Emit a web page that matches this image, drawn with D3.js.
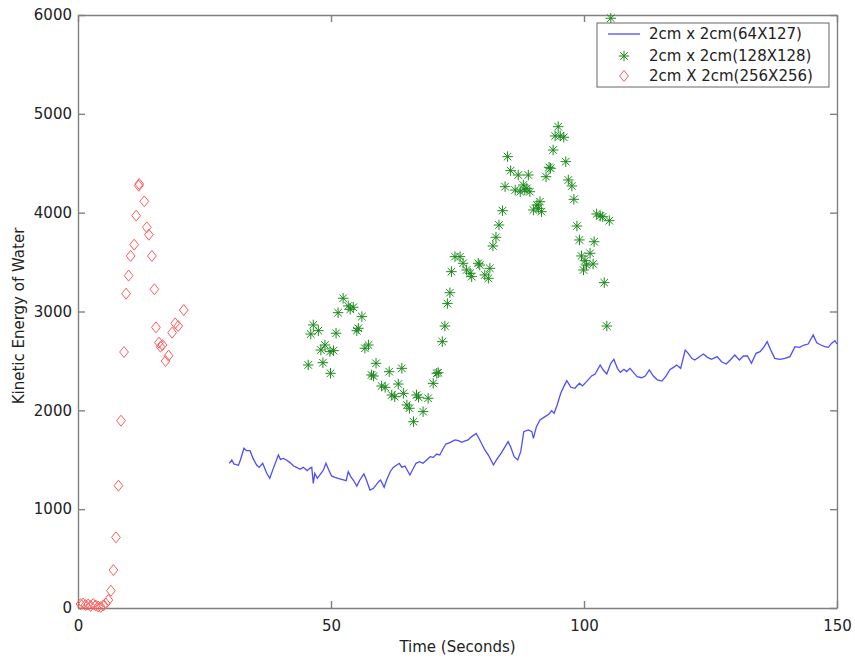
<!DOCTYPE html>
<html>
<head>
<meta charset="utf-8">
<script src="https://cdn.jsdelivr.net/npm/d3@7"></script>
<style>
  html, body { margin: 0; padding: 0; background: #fff; }
  text { font-family: "DejaVu Sans", "Liberation Sans", Arial, sans-serif; fill: #222; }
  .axis path, .axis line { stroke: #808080; stroke-width: 1.4; }
  .axis text { font-size: 15px; font-family: "DejaVu Sans", sans-serif; fill: #222; }
</style>
</head>
<body>
<div id="chart"></div>
<script>
// 2cm x 2cm (64X127): line
const blueTime = [29.9, 30.4, 30.8, 31.7, 32.1, 32.8, 33.3, 34.0, 34.6, 35.3, 35.8, 36.5, 37.3, 37.9, 38.6, 39.6, 40.0, 40.6, 41.2, 41.9,
  42.6, 43.2, 43.9, 44.5, 45.3, 45.8, 46.2, 46.5, 46.8, 47.3, 47.8, 48.5, 49.0, 49.5, 50.1, 50.8, 51.4, 52.1, 53.0, 53.4,
  53.9, 54.4, 55.1, 55.7, 56.5, 57.0, 57.7, 58.4, 59.4, 59.8, 60.5, 61.0, 61.7, 62.3, 63.0, 63.5, 64.0, 64.6, 65.6, 66.1,
  66.8, 67.5, 68.2, 68.9, 69.6, 70.2, 70.9, 71.5, 72.2, 72.7, 73.5, 74.5, 75.2, 75.8, 76.5, 77.1, 77.8, 78.7, 79.4, 80.4,
  81.1, 81.6, 82.1, 82.7, 83.7, 85.0, 85.5, 86.2, 86.9, 87.5, 88.1, 89.0, 89.7, 90.0, 90.6, 91.3, 92.3, 93.1, 93.6, 94.1,
  94.7, 95.4, 96.0, 96.6, 97.4, 98.2, 99.1, 99.7, 100.5, 101.5, 102.2, 103.2, 103.8, 104.5, 105.3, 105.9, 106.6, 107.2, 107.9, 108.4,
  109.1, 109.8, 110.5, 111.4, 112.1, 112.9, 113.7, 114.5, 115.4, 116.2, 117.0, 117.7, 118.3, 119.1, 120.0, 120.6, 121.3, 121.9, 122.8, 123.6,
  124.4, 125.2, 126.3, 127.2, 128.1, 128.9, 129.8, 130.7, 131.5, 132.3, 133.1, 134.0, 134.8, 135.6, 136.2, 136.9, 137.7, 138.7, 139.7, 140.7,
  141.7, 142.6, 143.5, 144.3, 145.3, 146.0, 146.8, 147.6, 148.3, 148.9, 149.6, 150.0]
const blueEnergy = [1464, 1498, 1457, 1444, 1498, 1616, 1592, 1592, 1514, 1447, 1423, 1464, 1363, 1312, 1413, 1548, 1504, 1514, 1498, 1471,
  1437, 1423, 1403, 1423, 1390, 1413, 1423, 1261, 1363, 1312, 1346, 1396, 1464, 1403, 1336, 1322, 1312, 1302, 1288, 1379,
  1329, 1295, 1234, 1295, 1356, 1295, 1194, 1211, 1278, 1295, 1221, 1295, 1379, 1423, 1447, 1464, 1423, 1437, 1346, 1396,
  1464, 1481, 1464, 1498, 1531, 1524, 1558, 1548, 1616, 1659, 1673, 1700, 1693, 1676, 1690, 1700, 1734, 1767, 1700, 1599,
  1548, 1498, 1447, 1498, 1572, 1683, 1632, 1531, 1498, 1582, 1784, 1801, 1784, 1717, 1835, 1903, 1936, 1963, 1997, 1970,
  2054, 2172, 2240, 2300, 2233, 2223, 2274, 2247, 2290, 2348, 2368, 2459, 2408, 2368, 2476, 2516, 2425, 2385, 2415, 2392,
  2425, 2381, 2340, 2330, 2347, 2408, 2347, 2307, 2296, 2347, 2414, 2435, 2458, 2425, 2610, 2577, 2526, 2509, 2543, 2570,
  2536, 2516, 2543, 2492, 2469, 2509, 2560, 2509, 2550, 2550, 2475, 2577, 2593, 2644, 2694, 2610, 2526, 2516, 2526, 2543,
  2644, 2637, 2661, 2671, 2762, 2684, 2661, 2644, 2637, 2677, 2704, 2671]

// 2cm x 2cm (128X128): stars
const greenTime = [45.5, 46.0, 46.5, 47.5, 48.0, 48.4, 48.8, 49.8, 49.9, 50.5, 51.0, 51.4, 52.4, 53.4, 53.8, 54.4, 55.1, 55.4, 56.1, 56.7,
  57.4, 58.0, 58.4, 58.9, 60.0, 60.7, 61.5, 62.0, 62.6, 63.3, 64.0, 64.3, 65.0, 65.5, 66.3, 66.9, 67.3, 68.2, 69.2, 70.2,
  70.9, 71.2, 72.0, 72.5, 73.0, 73.5, 73.8, 74.5, 75.5, 76.1, 76.8, 77.5, 77.8, 79.1, 79.4, 80.4, 81.1, 81.4, 82.0, 82.6,
  83.2, 83.9, 84.4, 84.9, 85.5, 86.4, 87.0, 87.4, 88.0, 88.3, 88.7, 89.0, 89.3, 90.0, 90.7, 91.0, 91.3, 91.6, 92.5, 93.1,
  93.4, 93.9, 94.3, 94.9, 95.3, 96.0, 96.4, 96.9, 97.6, 98.0, 98.6, 99.1, 99.5, 99.9, 100.2, 100.5, 101.2, 101.8, 102.0, 102.5,
  103.2, 103.7, 104.0, 104.5, 105.0, 105.3]
const greenEnergy = [2459, 2772, 2864, 2806, 2610, 2482, 2661, 2594, 2375, 2604, 2780, 2988, 3134, 3056, 3022, 3043, 2806, 2830, 2948, 2628,
  2661, 2358, 2347, 2476, 2246, 2233, 2391, 2155, 2138, 2266, 2425, 2172, 2054, 2021, 1885, 2155, 2132, 1987, 2122, 2273,
  2375, 2381, 2695, 2853, 3080, 3190, 3403, 3555, 3555, 3488, 3420, 3387, 3353, 3488, 3470, 3370, 3336, 3437, 3663, 3751,
  3875, 4020, 4263, 4567, 4425, 4229, 4381, 4212, 4280, 4229, 4246, 4381, 4212, 4027, 4078, 4044, 4111, 4010, 4364, 4459,
  4449, 4634, 4776, 4870, 4776, 4763, 4516, 4331, 4270, 4135, 3865, 3724, 3562, 3420, 3514, 3470, 3589, 3481, 3706, 3987,
  3966, 3959, 3292, 2853, 3919, 5967]

// 2cm X 2cm (256X256): diamonds
const redTime = [0.5, 1.0, 1.5, 2.0, 2.5, 3.0, 3.5, 4.0, 4.5, 5.0, 5.5, 6.0, 6.5, 7.0, 7.5, 8.0, 8.5, 9.1, 9.5, 10.0,
  10.4, 11.1, 11.5, 12.0, 12.1, 13.1, 13.6, 14.0, 14.6, 15.1, 15.4, 16.0, 16.3, 16.7, 17.3, 17.9, 18.6, 19.2, 19.8, 20.9]
const redEnergy = [40, 45, 30, 35, 20, 40, 25, 15, 10, 25, 45, 81, 175, 384, 715, 1238, 1895, 2590, 3180, 3363,
  3562, 3676, 3970, 4273, 4290, 4115, 3852, 3777, 3562, 3225, 2840, 2685, 2644, 2661, 2499, 2553, 2786, 2880, 2853, 3015]

const xTicks = [0, 50, 100, 150]
const yTicks = [0, 1000, 2000, 3000, 4000, 5000, 6000]
const legendLabels = ["2cm x 2cm(64X127)", "2cm x 2cm(128X128)", "2cm X 2cm(256X256)"]

const SVG_WIDTH = 855
const SVG_HEIGHT = 658
const MARGIN = { top: 15, right: 18, bottom: 50, left: 78 }
const GRAPH_WIDTH = SVG_WIDTH - MARGIN.left - MARGIN.right
const GRAPH_HEIGHT = SVG_HEIGHT - MARGIN.top - MARGIN.bottom

const BLUE = "#4d4dff"
const GREEN = "#1b8a1b"
const RED = "#ff5a5a"

// matlab style markers
const star = {
  draw(context, size) {
    const r = Math.sqrt(size) / 2
    const d = r * 0.72
    context.moveTo(-r, 0); context.lineTo(r, 0)
    context.moveTo(0, -r); context.lineTo(0, r)
    context.moveTo(-d, -d); context.lineTo(d, d)
    context.moveTo(-d, d); context.lineTo(d, -d)
  }
}
const diamond = {
  draw(context, size) {
    const h = Math.sqrt(size) / 2
    const w = h * 0.8
    context.moveTo(0, -h)
    context.lineTo(w, 0)
    context.lineTo(0, h)
    context.lineTo(-w, 0)
    context.closePath()
  }
}

const svg = d3
  .select("#chart")
  .append("svg")
  .attr("width", SVG_WIDTH)
  .attr("height", SVG_HEIGHT)

const graph = svg
  .append("g")
  .attr("transform", `translate(${MARGIN.left}, ${MARGIN.top})`)

// SCALES ----------------------

const xScale = d3.scaleLinear().domain([0, 150]).range([0, GRAPH_WIDTH])
const yScale = d3.scaleLinear().domain([0, 6000]).range([GRAPH_HEIGHT, 0])

// AXES (box with inward ticks) ------------------------

graph
  .append("g")
  .attr("class", "axis")
  .attr("transform", `translate(0, ${GRAPH_HEIGHT})`)
  .call(d3.axisBottom(xScale).tickValues(xTicks).tickSizeInner(-7).tickSizeOuter(0).tickPadding(12).tickFormat(d3.format("d")))
graph
  .append("g")
  .attr("class", "axis")
  .call(d3.axisTop(xScale).tickValues(xTicks).tickSizeInner(-7).tickSizeOuter(0).tickFormat(""))
graph
  .append("g")
  .attr("class", "axis")
  .call(d3.axisLeft(yScale).tickValues(yTicks).tickSizeInner(-7).tickSizeOuter(0).tickPadding(6).tickFormat(d3.format("d")))
graph
  .append("g")
  .attr("class", "axis")
  .attr("transform", `translate(${GRAPH_WIDTH}, 0)`)
  .call(d3.axisRight(yScale).tickValues(yTicks).tickSizeInner(-7).tickSizeOuter(0).tickFormat(""))

// SERIES ------------------------

const line = d3
  .line()
  .x(i => xScale(blueTime[i]))
  .y(i => yScale(blueEnergy[i]))

graph
  .append("path")
  .datum(d3.range(blueTime.length))
  .attr("fill", "none")
  .attr("stroke", BLUE)
  .attr("stroke-width", 1.3)
  .attr("d", line)

graph
  .selectAll(".star")
  .data(d3.range(greenTime.length))
  .enter()
  .append("path")
  .attr("class", "star")
  .attr("transform", i => `translate(${xScale(greenTime[i])}, ${yScale(greenEnergy[i])})`)
  .attr("d", d3.symbol().type(star).size(110))
  .attr("fill", "none")
  .attr("stroke", GREEN)
  .attr("stroke-width", 1)

graph
  .selectAll(".diamond")
  .data(d3.range(redTime.length))
  .enter()
  .append("path")
  .attr("class", "diamond")
  .attr("transform", i => `translate(${xScale(redTime[i])}, ${yScale(redEnergy[i])})`)
  .attr("d", d3.symbol().type(diamond).size(120))
  .attr("fill", "none")
  .attr("stroke", RED)
  .attr("stroke-width", 1)

// LEGEND ------------------------

const legend = svg.append("g").attr("transform", "translate(597, 23)")
legend
  .append("rect")
  .attr("width", 232)
  .attr("height", 64)
  .attr("fill", "#fff")
  .attr("stroke", "#666")
  .attr("stroke-width", 1)

const rowY = [11, 33, 53]
legend
  .append("line")
  .attr("x1", 11).attr("x2", 43)
  .attr("y1", rowY[0]).attr("y2", rowY[0])
  .attr("stroke", BLUE)
  .attr("stroke-width", 1.3)
legend
  .append("path")
  .attr("transform", `translate(27, ${rowY[1]})`)
  .attr("d", d3.symbol().type(star).size(110))
  .attr("fill", "none")
  .attr("stroke", GREEN)
legend
  .append("path")
  .attr("transform", `translate(27, ${rowY[2]})`)
  .attr("d", d3.symbol().type(diamond).size(120))
  .attr("fill", "none")
  .attr("stroke", RED)

legend
  .selectAll(".legend-label")
  .data(legendLabels)
  .enter()
  .append("text")
  .attr("class", "legend-label")
  .attr("x", 52)
  .attr("y", (d, i) => rowY[i])
  .attr("dy", "0.35em")
  .style("font-size", "15px")
  .text(d => d)

// LABELS ------------------------

svg
  .append("text")
  .attr("x", MARGIN.left + GRAPH_WIDTH / 2)
  .attr("y", 652)
  .style("text-anchor", "middle")
  .style("font-size", "15px")
  .text("Time (Seconds)")

svg
  .append("text")
  .attr("transform", "rotate(-90)")
  .attr("x", -316)
  .attr("y", 24)
  .style("text-anchor", "middle")
  .style("font-size", "15px")
  .text("Kinetic Energy of Water")
</script>
</body>
</html>
